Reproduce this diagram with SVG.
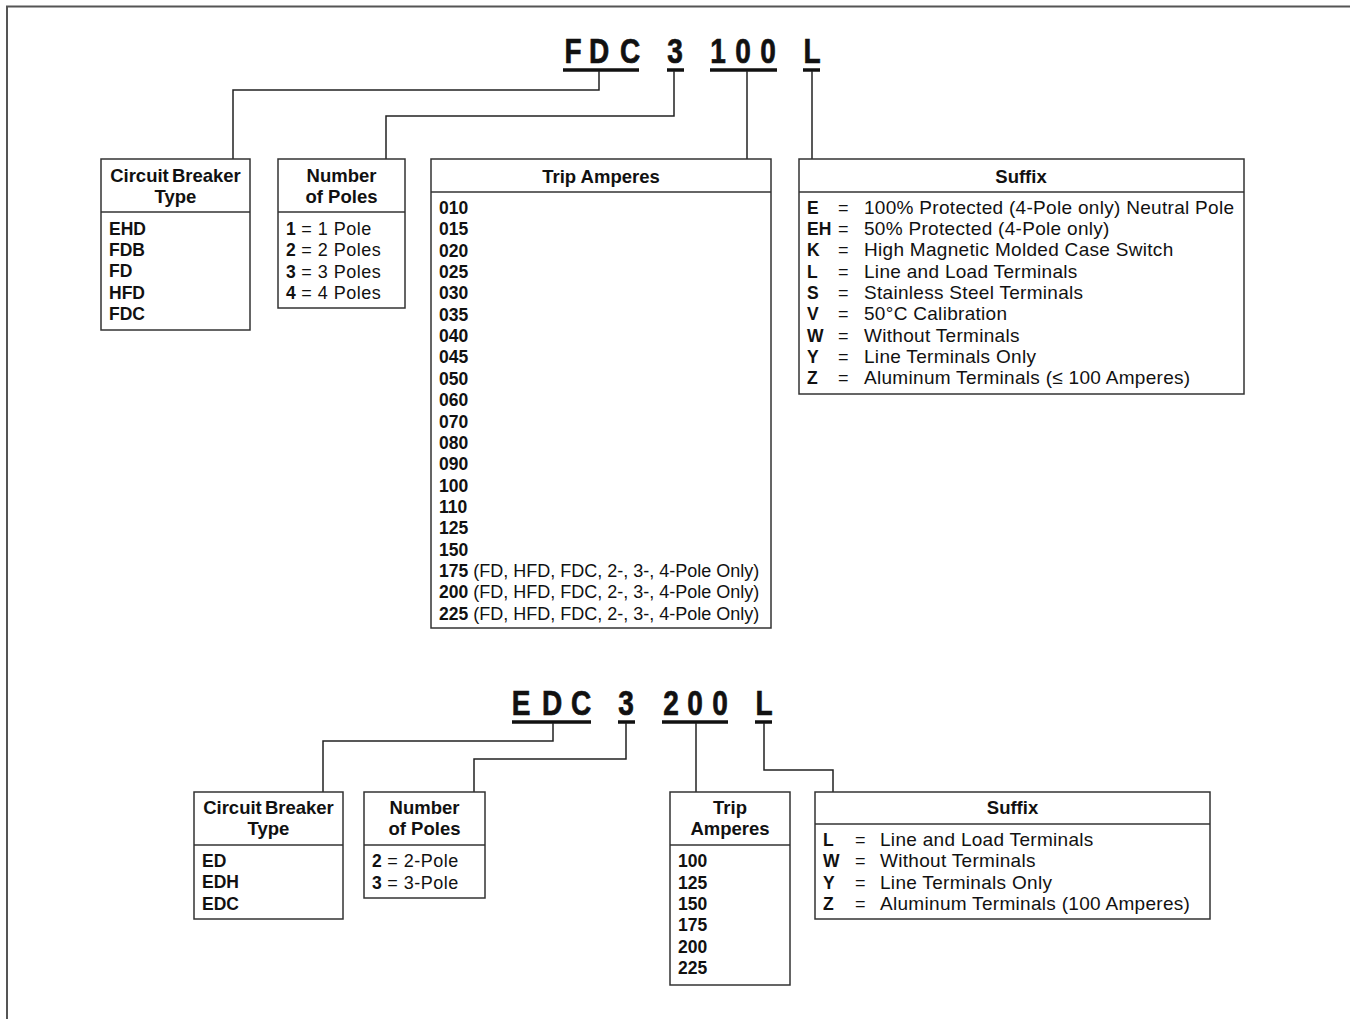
<svg xmlns="http://www.w3.org/2000/svg" width="1350" height="1019" viewBox="0 0 1350 1019">
<style>
text{font-family:"Liberation Sans",Arial,sans-serif;font-size:18px;fill:#111}
.h{font-weight:bold;text-anchor:middle;font-size:18.5px}
.b{font-weight:bold;font-size:17.5px;letter-spacing:0}
.d{font-size:19px;letter-spacing:0.3px}
.p{letter-spacing:0.5px}
.code{font-family:"Liberation Sans",Arial,sans-serif;font-weight:bold;font-size:35px;text-anchor:middle;stroke:#111;stroke-width:0.7}
.box{fill:#fff;stroke:#333;stroke-width:1.5}
.div{stroke:#333;stroke-width:1.5}
.ul{stroke:#111;stroke-width:3.5}
.con path{fill:none;stroke:#222;stroke-width:1.5}
</style>
<rect width="1350" height="1019" fill="#fff"/>
<path d="M7,1019 V6.5 H1350" fill="none" stroke="#555" stroke-width="2"/>

<g id="code1">
<text class="code" transform="translate(573,63) scale(0.8,1)">F</text>
<text class="code" transform="translate(599,63) scale(0.8,1)">D</text>
<text class="code" transform="translate(630,63) scale(0.8,1)">C</text>
<text class="code" transform="translate(675,63) scale(0.8,1)">3</text>
<text class="code" transform="translate(718,63) scale(0.8,1)">1</text>
<text class="code" transform="translate(743,63) scale(0.8,1)">0</text>
<text class="code" transform="translate(768,63) scale(0.8,1)">0</text>
<text class="code" transform="translate(812,63) scale(0.8,1)">L</text>
<line class="ul" x1="563" y1="70" x2="639" y2="70"/>
<line class="ul" x1="667" y1="70" x2="684" y2="70"/>
<line class="ul" x1="710" y1="70" x2="777" y2="70"/>
<line class="ul" x1="803" y1="70" x2="820" y2="70"/>
</g>

<g id="code2">
<text class="code" transform="translate(521,715) scale(0.8,1)">E</text>
<text class="code" transform="translate(552,715) scale(0.8,1)">D</text>
<text class="code" transform="translate(581,715) scale(0.8,1)">C</text>
<text class="code" transform="translate(626,715) scale(0.8,1)">3</text>
<text class="code" transform="translate(671,715) scale(0.8,1)">2</text>
<text class="code" transform="translate(695,715) scale(0.8,1)">0</text>
<text class="code" transform="translate(720,715) scale(0.8,1)">0</text>
<text class="code" transform="translate(764,715) scale(0.8,1)">L</text>
<line class="ul" x1="512" y1="722" x2="591" y2="722"/>
<line class="ul" x1="618" y1="722" x2="635" y2="722"/>
<line class="ul" x1="662" y1="722" x2="728" y2="722"/>
<line class="ul" x1="755" y1="722" x2="772" y2="722"/>
</g>

<g id="connectors" class="con">
<path d="M599,71 V90 H233 V159"/>
<path d="M674,71 V116 H386 V159"/>
<path d="M747,71 V159"/>
<path d="M812,71 V159"/>
<path d="M553,723 V741 H323 V792"/>
<path d="M626,723 V759 H474 V792"/>
<path d="M696,723 V792"/>
<path d="M764,723 V770 H833 V792"/>
</g>

<g id="cb1">
<rect class="box" x="101" y="159" width="149" height="171"/>
<line class="div" x1="101" y1="212" x2="250" y2="212"/>
<text class="h" x="175.5" y="182" word-spacing="-2">Circuit Breaker</text>
<text class="h" x="175.5" y="203">Type</text>
<text class="b" x="109" y="235">EHD</text>
<text class="b" x="109" y="256">FDB</text>
<text class="b" x="109" y="277">FD</text>
<text class="b" x="109" y="299">HFD</text>
<text class="b" x="109" y="320">FDC</text>
</g>

<g id="poles1">
<rect class="box" x="278" y="159" width="127" height="149"/>
<line class="div" x1="278" y1="212" x2="405" y2="212"/>
<text class="h" x="341.5" y="182">Number</text>
<text class="h" x="341.5" y="203">of Poles</text>
<text class="p" x="286" y="235"><tspan class="b">1</tspan> = 1 Pole</text>
<text class="p" x="286" y="256"><tspan class="b">2</tspan> = 2 Poles</text>
<text class="p" x="286" y="278"><tspan class="b">3</tspan> = 3 Poles</text>
<text class="p" x="286" y="299"><tspan class="b">4</tspan> = 4 Poles</text>
</g>

<g id="trip1">
<rect class="box" x="431" y="159" width="340" height="469"/>
<line class="div" x1="431" y1="192" x2="771" y2="192"/>
<text class="h" x="601" y="183">Trip Amperes</text>
<text class="b" x="439" y="214">010</text>
<text class="b" x="439" y="235.4">015</text>
<text class="b" x="439" y="256.7">020</text>
<text class="b" x="439" y="278">025</text>
<text class="b" x="439" y="299.4">030</text>
<text class="b" x="439" y="320.7">035</text>
<text class="b" x="439" y="342">040</text>
<text class="b" x="439" y="363.4">045</text>
<text class="b" x="439" y="384.8">050</text>
<text class="b" x="439" y="406">060</text>
<text class="b" x="439" y="427.5">070</text>
<text class="b" x="439" y="448.8">080</text>
<text class="b" x="439" y="470">090</text>
<text class="b" x="439" y="491.5">100</text>
<text class="b" x="439" y="512.9">110</text>
<text class="b" x="439" y="534.2">125</text>
<text class="b" x="439" y="555.6">150</text>
<text x="439" y="577"><tspan class="b">175</tspan> (FD, HFD, FDC, 2-, 3-, 4-Pole Only)</text>
<text x="439" y="598.3"><tspan class="b">200</tspan> (FD, HFD, FDC, 2-, 3-, 4-Pole Only)</text>
<text x="439" y="619.6"><tspan class="b">225</tspan> (FD, HFD, FDC, 2-, 3-, 4-Pole Only)</text>
</g>

<g id="suffix1">
<rect class="box" x="799" y="159" width="445" height="235"/>
<line class="div" x1="799" y1="192" x2="1244" y2="192"/>
<text class="h" x="1021" y="183">Suffix</text>
<text class="b" x="807" y="214">E</text><text x="838" y="214">=</text><text class="d" x="864" y="214">100% Protected (4-Pole only) Neutral Pole</text>
<text class="b" x="807" y="235">EH</text><text x="838" y="235">=</text><text class="d" x="864" y="235">50% Protected (4-Pole only)</text>
<text class="b" x="807" y="256">K</text><text x="838" y="256">=</text><text class="d" x="864" y="256">High Magnetic Molded Case Switch</text>
<text class="b" x="807" y="278">L</text><text x="838" y="278">=</text><text class="d" x="864" y="278">Line and Load Terminals</text>
<text class="b" x="807" y="299">S</text><text x="838" y="299">=</text><text class="d" x="864" y="299">Stainless Steel Terminals</text>
<text class="b" x="807" y="320">V</text><text x="838" y="320">=</text><text class="d" x="864" y="320">50°C Calibration</text>
<text class="b" x="807" y="342">W</text><text x="838" y="342">=</text><text class="d" x="864" y="342">Without Terminals</text>
<text class="b" x="807" y="363">Y</text><text x="838" y="363">=</text><text class="d" x="864" y="363">Line Terminals Only</text>
<text class="b" x="807" y="384">Z</text><text x="838" y="384">=</text><text class="d" x="864" y="384">Aluminum Terminals (≤ 100 Amperes)</text>
</g>

<g id="cb2">
<rect class="box" x="194" y="792" width="149" height="127"/>
<line class="div" x1="194" y1="845" x2="343" y2="845"/>
<text class="h" x="268.5" y="814" word-spacing="-2">Circuit Breaker</text>
<text class="h" x="268.5" y="835">Type</text>
<text class="b" x="202" y="867">ED</text>
<text class="b" x="202" y="888">EDH</text>
<text class="b" x="202" y="910">EDC</text>
</g>

<g id="poles2">
<rect class="box" x="364" y="792" width="121" height="106"/>
<line class="div" x1="364" y1="845" x2="485" y2="845"/>
<text class="h" x="424.5" y="814">Number</text>
<text class="h" x="424.5" y="835">of Poles</text>
<text class="p" x="372" y="867"><tspan class="b">2</tspan> = 2-Pole</text>
<text class="p" x="372" y="889"><tspan class="b">3</tspan> = 3-Pole</text>
</g>

<g id="trip2">
<rect class="box" x="670" y="792" width="120" height="193"/>
<line class="div" x1="670" y1="845" x2="790" y2="845"/>
<text class="h" x="730" y="814">Trip</text>
<text class="h" x="730" y="835">Amperes</text>
<text class="b" x="678" y="867">100</text>
<text class="b" x="678" y="889">125</text>
<text class="b" x="678" y="910">150</text>
<text class="b" x="678" y="931">175</text>
<text class="b" x="678" y="953">200</text>
<text class="b" x="678" y="974">225</text>
</g>

<g id="suffix2">
<rect class="box" x="815" y="792" width="395" height="127"/>
<line class="div" x1="815" y1="824" x2="1210" y2="824"/>
<text class="h" x="1012.5" y="814">Suffix</text>
<text class="b" x="823" y="846">L</text><text x="855" y="846">=</text><text class="d" x="880" y="846">Line and Load Terminals</text>
<text class="b" x="823" y="867">W</text><text x="855" y="867">=</text><text class="d" x="880" y="867">Without Terminals</text>
<text class="b" x="823" y="889">Y</text><text x="855" y="889">=</text><text class="d" x="880" y="889">Line Terminals Only</text>
<text class="b" x="823" y="910">Z</text><text x="855" y="910">=</text><text class="d" x="880" y="910">Aluminum Terminals (100 Amperes)</text>
</g>
</svg>
